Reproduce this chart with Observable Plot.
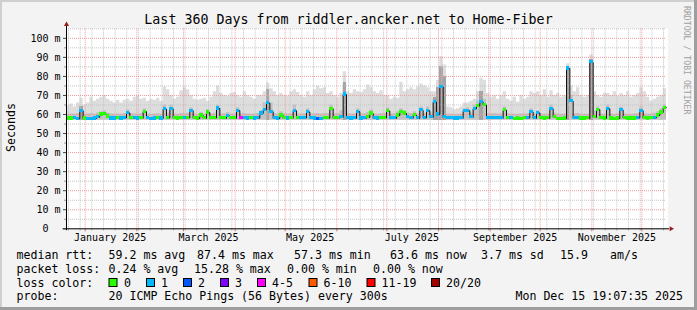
<!DOCTYPE html>
<html><head><meta charset="utf-8">
<script src="https://cdn.jsdelivr.net/npm/d3@7"></script>
<script src="https://cdn.jsdelivr.net/npm/@observablehq/plot@0.6"></script>
<style>
html,body{margin:0;padding:0;background:#f3f3f3;}
svg text{white-space:pre;}
</style>
</head><body><div id="chart"></div>
<script>
// ---- time frame (360 days, 2-day buckets) ----
const startTime = Date.UTC(2024, 11, 20, 19, 7, 35);
const endTime = Date.UTC(2025, 11, 15, 19, 7, 35);
const bucketDays = 2;

// ---- median rtt per bucket (ms) ----
const med = [
57.9,57.9,58.0,57.8,62.0,57.9,57.8,57.8,57.9,58.6,
60.0,60.3,59.0,57.9,57.9,58.0,57.9,58.2,60.8,58.3,
58.0,57.9,58.0,61.5,58.0,57.8,57.9,58.0,57.9,62.8,
58.2,63.0,58.0,57.9,58.1,58.0,58.3,62.0,58.0,57.9,
59.5,58.0,61.0,58.0,58.2,63.2,58.0,58.0,59.2,58.0,
58.0,62.0,58.0,58.0,57.9,58.0,57.9,58.1,60.5,62.5,
66.0,61.5,58.0,57.9,59.5,58.0,57.9,58.0,62.0,58.0,
58.0,58.2,61.3,58.0,57.9,57.8,57.8,58.0,58.1,63.0,
58.0,58.2,58.5,70.5,58.0,57.9,58.0,61.5,57.9,58.0,
58.5,60.5,58.0,57.9,58.0,58.2,61.8,58.0,58.0,59.5,
61.2,60.5,58.5,58.0,59.6,58.0,62.2,58.2,62.0,58.5,
66.5,60.0,74.5,58.5,58.0,58.0,57.9,57.9,58.0,61.8,
62.0,58.5,63.0,64.5,66.5,65.0,58.2,58.2,58.0,58.1,
58.0,62.3,58.2,58.0,57.8,57.9,57.8,58.0,58.2,61.4,
58.0,60.8,58.0,57.9,58.0,63.0,58.5,57.8,57.8,57.9,
84.2,67.0,58.0,58.0,57.9,57.9,58.0,87.4,58.5,62.5,
58.0,57.9,63.0,57.9,57.8,57.9,62.3,58.0,57.9,57.9,
57.9,58.2,62.0,58.0,57.9,58.0,58.3,59.5,61.0,63.6
];
// ---- loss class per bucket (index into lossLabels) ----
const loss = [
0,0,1,1,1,0,1,1,1,1,
0,0,0,1,1,0,1,1,1,0,
1,1,0,0,1,1,1,0,1,1,
0,1,0,0,0,1,0,1,0,0,
0,0,0,0,0,1,0,0,1,0,
0,1,4,1,1,0,1,1,1,1,
1,1,1,1,0,0,1,0,1,0,
1,1,1,1,1,2,1,0,0,0,
0,0,1,1,1,1,1,1,1,1,
0,0,1,1,0,0,0,1,1,0,
0,0,1,1,0,1,1,1,1,1,
1,1,1,1,1,1,1,1,1,1,
1,1,1,0,1,0,1,1,1,1,
1,0,0,1,0,0,0,0,1,1,
1,1,0,0,0,1,0,0,0,0,
1,1,1,1,0,0,0,1,0,0,
0,0,1,0,0,0,1,0,0,0,
0,1,1,0,0,0,1,0,0,0
];
// ---- smoke: top of outer (max) pings per bucket (ms) ----
const hi = [
64.5,65.5,64,66,68.5,65,66,69,67,68,
69,70,68,67,66,67.5,66,67.5,68,67,
69,69.5,68,68.5,67,68,67.5,68.5,67,74.5,
73,70,68,69,72.5,74,73,70,68,67.5,
68,68.5,67,69,72,75,71,70,69.5,71,
71.5,70,69,72,70,69,68,70,70,72,
76.5,73.5,72,70,71,70,69.5,72,73,71.5,
70,69,72,70,73,75,73.5,74,71,72,
70,69,71,82.4,72,71,73,72,71.5,73,
75.5,74,72,71,72.5,70,70,68,69,68.5,
77,72,73,74,73,74.5,76,75,74,72,
72,78,90.3,86,64,63.5,62.5,63,64,66,
66,67,68,72,79,78,71,69,70,68,
70,72,68,67,69,66.5,70,68,69,72,
71,72,70,73,69,72.5,70,71,69,70,
86.6,75,72,74,70,69,70,91.2,72,70,
69,71,71,70,72,69.5,71,70,72,69,
70,71,74,72,69,67,68,69,70,73.5
];
// ---- smoke: top of the denser inner pings per bucket (ms) ----
const mid = [
60.2,60.3,60.2,60.4,64,60.2,60.3,60.4,60.3,60.8,
61.5,62,60.8,60.3,60.2,60.4,60.2,60.5,62.5,60.5,
60.3,60.2,60.4,63,60.3,60.2,60.3,60.4,60.2,65,
60.6,65,60.3,60.2,60.5,60.4,60.6,63.5,60.3,60.2,
61,60.3,62.5,60.3,60.6,65,60.3,60.4,61,60.3,
60.4,63.5,60.3,60.5,60.3,60.2,60.3,60.5,62,66,
70,66,60.5,60.3,61.5,60.4,60.3,60.5,65,60.4,
60.3,60.5,63,60.3,60.4,60.5,60.3,60.4,60.5,65,
60.4,60.5,62,74,60.5,60.3,60.4,63,60.3,60.4,
61,62.5,60.3,60.2,60.4,60.5,63.5,60.3,60.4,61.5,
63,62,60.8,60.5,61.5,60.4,64,60.5,64,60.8,
68,70,84,76,60.3,60.2,60.1,60.1,60.3,63,
63.5,60.8,65,67,70,68,60.5,60.4,60.5,60.3,
60.4,64,60.4,60.3,60.2,60.2,60.3,60.3,60.4,63,
60.4,62,60.3,60.2,60.3,65,60.8,60.2,60.2,60.3,
85,70,60.4,60.5,60.2,60.2,60.3,88.5,62,64,
60.3,60.2,65,60.2,60.2,60.3,64,60.3,60.2,60.2,
60.3,60.5,64,60.4,60.2,60.3,60.6,61.5,63,65
];
// ---- dark smoke columns around the big spikes: [bucket, top ms] ----
const darkSmokeBucket = [4, 60, 83, 110, 111, 112, 113, 124, 150, 157];
const darkSmokeTop    = [64, 73, 77, 69, 74, 85, 80, 72, 85, 89];
const smokeFloor = 57.0;

// ---- legend / text ----
const lossLabels = ["0","1","2","3","4-5","6-10","11-19","20/20"];
const lossColors = ["#26ff00","#00b8ff","#0059ff","#7e00ff","#ff00ff","#ff5a00","#ff0000","#a00000"];
const rttStats  = ["59.2 ms avg","87.4 ms max","57.3 ms min","63.6 ms now","3.7 ms sd","15.9","am/s"];
const lossStats = ["0.24 % avg","15.28 % max","0.00 % min","0.00 % now"];
const titleText = "Last 360 Days from riddler.ancker.net to Home-Fiber";
const probeText = "20 ICMP Echo Pings (56 Bytes) every 300s";
const stampText = "Mon Dec 15 19:07:35 2025";

// ---- axes ----
const yTicks = [10,20,30,40,50,60,70,80,90,100];
const yMinor = [5,15,25,35,45,55,65,75,85,95,105];
const xTickDates = ["2025-01-16","2025-03-16","2025-05-16","2025-07-16","2025-09-16","2025-11-16"].map(s => new Date(s + "T00:00:00Z"));
const xTickLabels = ["January 2025","March 2025","May 2025","July 2025","September 2025","November 2025"];
const monthStarts = ["2025-01-01","2025-02-01","2025-03-01","2025-04-01","2025-05-01","2025-06-01","2025-07-01","2025-08-01","2025-09-01","2025-10-01","2025-11-01","2025-12-01"].map(s => new Date(s + "T00:00:00Z"));

// ---- build tables ----
const DAY = 864e5;
const tAt = i => new Date(startTime + i * bucketDays * DAY);
const rows = med.map((m, i) => ({t0: tAt(i), t1: tAt(i + 1), med: m, loss: loss[i], hi: hi[i], mid: mid[i]}));
const steps = rows.map(r => ({t: r.t0, med: r.med, hi: r.hi, mid: r.mid}));
steps.push({t: rows[rows.length - 1].t1, med: med[med.length - 1], hi: hi[hi.length - 1], mid: mid[mid.length - 1]});
const dark = darkSmokeBucket.map((b, k) => ({t0: tAt(b), t1: tAt(b + 1), top: darkSmokeTop[k]}));
const monthSet = new Set(monthStarts.map(d => +d));
const sundays = d3.utcSunday.range(new Date(startTime), new Date(endTime)).filter(d => !monthSet.has(+d));

const start = new Date(startTime), end = new Date(endTime);
const minorGrid = "#c4c4c4", majorGrid = "#f09a9a", arrowColor = "#9a1c1c";

const chart = Plot.plot({
  width: 697, height: 310,
  marginLeft: 66, marginRight: 31, marginTop: 28.3, marginBottom: 81.7,
  x: {type: "utc", domain: [start, end]},
  y: {domain: [0, 105]},
  style: {background: "#f3f3f3", fontFamily: "DejaVu Sans Mono", overflow: "visible"},
  marks: [
    // white canvas
    Plot.rect([0], {x1: () => start, x2: () => new Date(endTime + 1.2 * DAY), y1: () => 0, y2: () => 105, fill: "white"}),
    // smoke
    Plot.areaY(steps, {x: "t", y1: smokeFloor, y2: "hi", curve: "step-after", fill: "#dddddd"}),
    Plot.areaY(steps, {x: "t", y1: smokeFloor, y2: "mid", curve: "step-after", fill: "#c2c2c2"}),
    Plot.rect(dark, {x1: "t0", x2: "t1", y1: smokeFloor, y2: "top", fill: "#a4a4a4", shapeRendering: "crispEdges"}),
    // grid
    Plot.ruleY(yMinor, {stroke: minorGrid, strokeDasharray: "1,1"}),
    Plot.ruleX(sundays, {stroke: minorGrid, strokeDasharray: "1,1"}),
    Plot.ruleY(yTicks, {stroke: majorGrid, strokeDasharray: "1,1"}),
    Plot.ruleX(monthStarts, {stroke: majorGrid, strokeDasharray: "1,1"}),
    // median line and loss-coloured median bars
    Plot.line(steps, {x: "t", y: "med", curve: "step-after", stroke: "#111", strokeWidth: 1}),
    Plot.rect(rows, {x1: "t0", x2: "t1", y1: d => d.med - 0.85, y2: d => d.med + 0.85, fill: d => lossColors[d.loss], shapeRendering: "crispEdges"}),
    // axis ticks below x axis
    Plot.ruleX(sundays, {y1: 0, y2: -1.1, stroke: "#aaa"}),
    Plot.ruleX(monthStarts, {y1: 0, y2: -1.6, stroke: "#e07070"}),
    // axis lines
    Plot.ruleY([0], {x1: () => new Date(startTime - 2 * DAY), x2: () => new Date(endTime + 1.9 * DAY), stroke: "#000"}),
    Plot.ruleX([start], {y1: -1, y2: 106.5, stroke: "#000"}),
    Plot.dot([0], {x: () => start, y: () => 107.3, symbol: "triangle", r: 1.9, fill: arrowColor, stroke: null}),
    Plot.dot([0], {x: () => new Date(endTime + 2.75 * DAY), y: () => 0, symbol: "triangle", r: 1.9, rotate: 90, fill: arrowColor, stroke: null}),
    // y axis
    Plot.axisY(yMinor.slice(0, 10), {tickSize: 2, tickFormat: () => "", stroke: "#999"}),
    Plot.axisY(yTicks, {tickSize: 3, tickPadding: 3, fontSize: 10, tickFormat: d => d + " m", stroke: "#444"}),
    Plot.axisY([0], {tickSize: 3, tickPadding: 15, fontSize: 10, tickFormat: d => String(d), stroke: "#444"}),
    // x axis labels
    Plot.axisX(xTickDates, {tickSize: 0, tickPadding: 5, fontSize: 10, tickFormat: d => xTickLabels[xTickDates.findIndex(t => +t === +d)]})
  ]
});

document.getElementById("chart").appendChild(chart);

// ---- surrounding texts, legend and frame ----
const svg = d3.select(chart);
const txt = (x, y, s, o = {}) => svg.append("text")
  .attr("x", x).attr("y", y).text(s)
  .attr("font-family", "DejaVu Sans Mono")
  .attr("font-size", o.size || 11.6)
  .attr("text-anchor", o.anchor || "start")
  .attr("fill", o.fill || "#000")
  .attr("transform", o.transform || null);

txt(348.5, 24, titleText, {size: 13.3, anchor: "middle"});
svg.append("text").text("Seconds")
  .attr("font-family", "DejaVu Sans Mono").attr("font-size", 11.6).attr("text-anchor", "middle")
  .attr("transform", "translate(15,127.5) rotate(-90)");
svg.append("text").text("RRDTOOL / TOBI OETIKER")
  .attr("font-family", "DejaVu Sans Mono").attr("font-size", 8.2).attr("fill", "#a0a0a0")
  .attr("text-anchor", "start")
  .attr("transform", "translate(683.5,6) rotate(90)");

const lineY = [258.5, 272.5, 286.5, 300.3];
txt(16.5, lineY[0], "median rtt:");
const rttX = [108.5, 197, 294, 390, 481, 560, 610];
rttStats.forEach((s, i) => txt(rttX[i], lineY[0], s));
txt(16.5, lineY[1], "packet loss:");
const lossX = [108.5, 194, 287, 373];
lossStats.forEach((s, i) => txt(lossX[i], lineY[1], s));
txt(16.5, lineY[2], "loss color:");
const swX = [108.5, 146, 183, 220, 257, 308.5, 366.5, 431];
const swLabX = [124, 161, 198, 235, 272, 323.5, 381.5, 446];
lossLabels.forEach((s, i) => {
  svg.append("rect").attr("x", swX[i] + 0.5).attr("y", 278.5).attr("width", 8).attr("height", 8)
    .attr("fill", lossColors[i]).attr("stroke", "#000").attr("stroke-width", 1);
  txt(swLabX[i], lineY[2], s);
});
txt(16.5, lineY[3], "probe:");
txt(108.5, lineY[3], probeText);
txt(683, lineY[3], stampText, {anchor: "end"});

// rrdtool-style shaded border
svg.append("rect").attr("x", 0).attr("y", 0).attr("width", 697).attr("height", 2).attr("fill", "#cfcfcf");
svg.append("rect").attr("x", 0).attr("y", 0).attr("width", 2).attr("height", 310).attr("fill", "#cfcfcf");
svg.append("rect").attr("x", 0).attr("y", 307).attr("width", 697).attr("height", 3).attr("fill", "#9e9e9e");
svg.append("rect").attr("x", 694).attr("y", 0).attr("width", 3).attr("height", 310).attr("fill", "#9e9e9e");
</script>
</body></html>
